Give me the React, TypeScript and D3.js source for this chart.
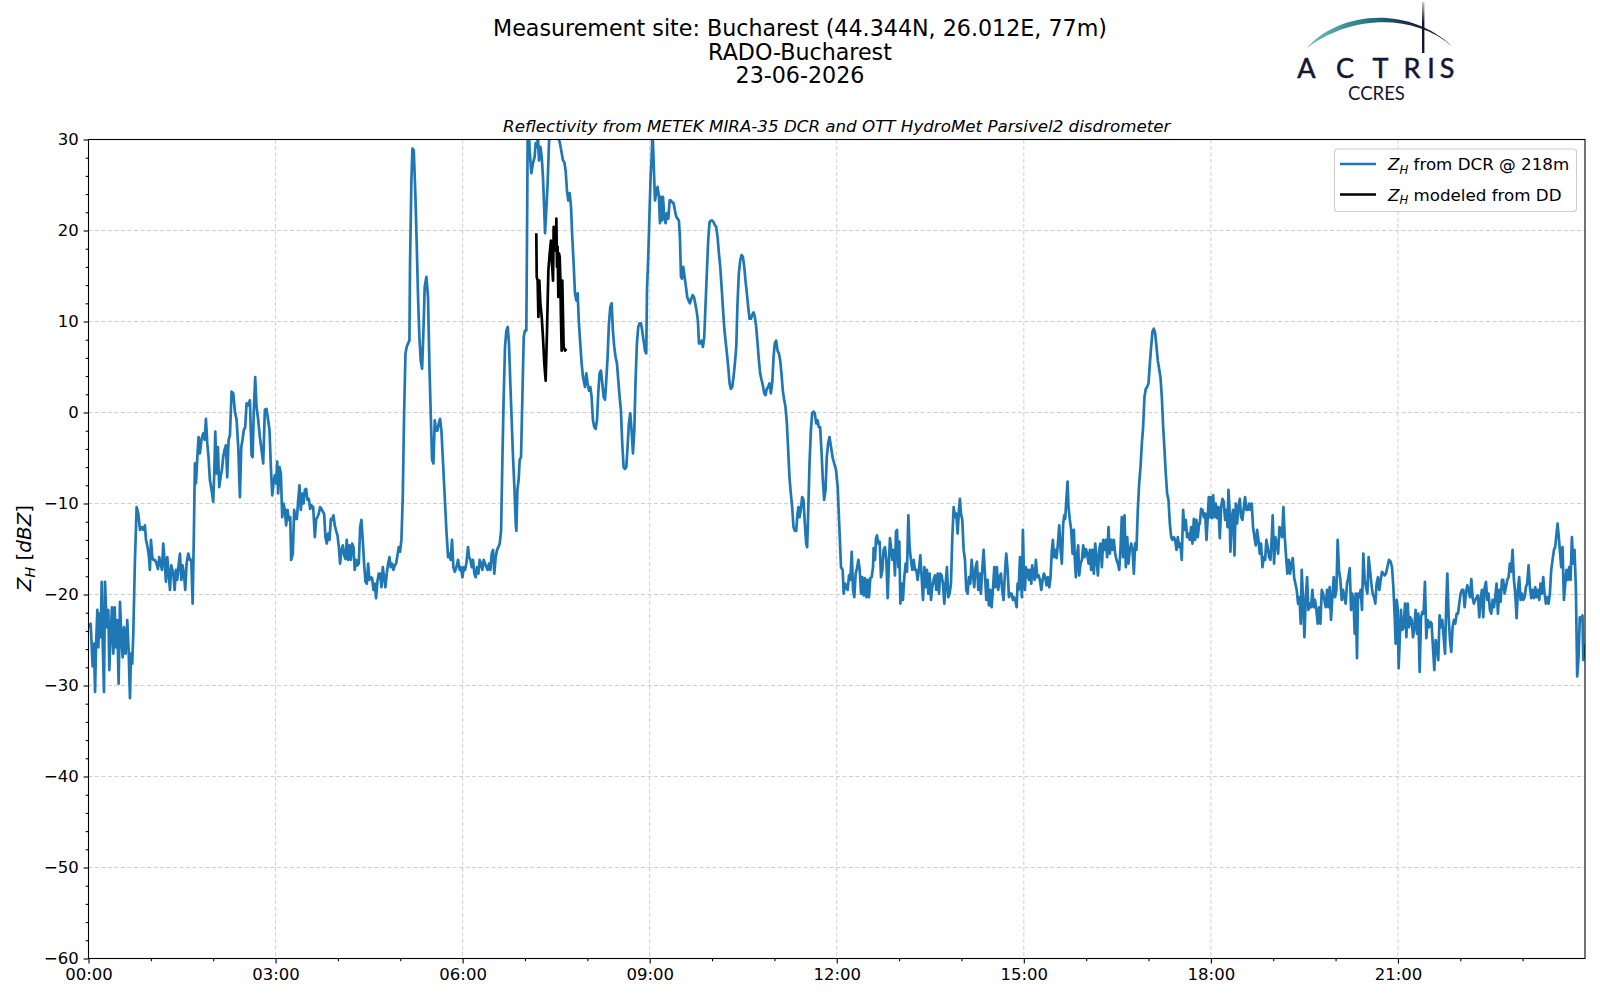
import { useEffect, useRef } from "react";
import * as d3 from "d3";

// time in minutes after 00:00, reflectivity in dBZ
const dcr00: [number, number][] = [
  [0,-23.6],[2.1,-23.2],[4.0,-27.9],[5.3,-25.4],[6.3,-30.7],[7.2,-25.8],[8.5,-21.7],[9.5,-25.8],[10.4,-22.1],[11.7,-24.7],
  [12.7,-18.6],[13.6,-25.0],[14.9,-30.7],[15.9,-18.6],[17.5,-23.6],[19.1,-21.7],[20.0,-28.3],[21.3,-24.3],[22.6,-21.4],[23.9,-26.5],
  [25.2,-21.4],[26.4,-25.8],[27.7,-22.8],[29.0,-29.8],[30.3,-20.8],[31.9,-25.4],[32.9,-26.9],[34.1,-23.6],[35.7,-26.5],[37.3,-22.8],
  [38.6,-26.1],[39.9,-31.4],[40.9,-26.5],[42.1,-27.6],[43.1,-24.3],[44.7,-16.2],[46.3,-10.4],[47.9,-11.1],[49.5,-12.9],[51.4,-12.6],
  [52.7,-12.9],[54.3,-12.4],[55.3,-14.0],[56.9,-14.8],[58.2,-15.9],[59.1,-17.3],[60.1,-14.0],[61.4,-15.9],[62.3,-16.2],[63.9,-16.2],
  [65.5,-16.6],[66.8,-17.2],[68.1,-15.9],[69.4,-16.6],[70.7,-17.3],[71.9,-14.4],[73.2,-16.2],[74.5,-18.6],[75.8,-15.9],[77.1,-17.7],
  [78.4,-19.5],[79.6,-16.8],[81.6,-17.7],[82.9,-19.5],[84.1,-17.3],[85.4,-18.4],[86.7,-16.8],[88.0,-15.5],[89.3,-18.4],[90.5,-16.8],
  [91.8,-17.7],[93.1,-19.5],[94.4,-16.6],[96.0,-15.5],[97.6,-16.2],[98.9,-16.2],[100.2,-21.0],[101.4,-13.3],[102.4,-5.6],[103.4,-7.8],
  [104.6,-5.2],[105.9,-2.7],[107.2,-4.5],[108.8,-2.9],[110.4,-2.3],[111.7,-3.0],[113.0,-0.7],[114.3,-3.4],[115.5,-4.9],[116.8,-7.4],
  [118.4,-8.5],[120.0,-9.8],[121.0,-6.7],[122.0,-2.1],[123.2,-6.7],[124.5,-3.8],[125.8,-8.2],[127.1,-7.1],[128.4,-6.3],[129.6,-4.9],
  [130.9,-4.1],[132.2,-3.6],[133.5,-7.1],[134.8,-3.0],[136.1,-2.5],[137.7,2.3],[139.3,2.1],[140.9,0.1],[142.5,-0.8],[144.1,-3.8],
  [145.7,-9.3],[147.0,-3.8],[148.2,-3.0],[149.5,-1.9],[150.8,-1.6],[152.1,1.0],[153.7,0.8],[155.3,1.35],[156.9,-4.7],[157.9,-4.9],
  [159.1,0.3],[160.4,3.9],[161.7,0.6],[163.3,-0.8],[164.9,-2.7],[166.5,-4.1],[168.1,-5.6],[169.7,0.3],
];

const dcr03: [number, number][] = [
  [171.3,0.4],[172.9,-0.85],[174.2,-1.95],[175.5,-6.0],[176.8,-9.1],[178.0,-7.8],[179.3,-6.9],[180.6,-7.8],[181.6,-5.4],[182.5,-8.9],
  [183.8,-6.0],[185.1,-6.7],[186.4,-11.5],[187.6,-10.0],[188.9,-10.7],[190.2,-12.4],[191.5,-10.7],[192.8,-11.8],[194.1,-11.5],[195.0,-16.2],
  [196.6,-15.5],[197.9,-10.7],[199.2,-11.7],[200.5,-11.7],[201.8,-9.6],[203.0,-8.0],[204.3,-10.7],[205.6,-8.9],[206.9,-10.0],[208.2,-8.5],
  [209.4,-8.4],[210.7,-9.6],[212.0,-9.5],[213.3,-10.6],[214.6,-10.2],[216.2,-10.4],[217.8,-13.7],[219.1,-11.7],[220.3,-11.5],[221.6,-11.1],
  [222.9,-10.4],[224.2,-10.6],[225.5,-10.9],[226.7,-11.1],[228.0,-13.7],[229.3,-14.4],[230.6,-13.3],[231.9,-14.0],[233.2,-11.7],[234.4,-11.8],
  [235.7,-11.3],[237.0,-12.4],[238.3,-13.0],[239.6,-13.5],[240.9,-14.8],[242.1,-16.6],[243.4,-15.1],[244.7,-14.6],[246.0,-15.7],[247.3,-16.1],
  [248.5,-14.0],[249.8,-16.2],[251.1,-14.6],[252.4,-16.2],[253.7,-14.4],[255.0,-14.8],[256.2,-17.3],[257.5,-16.2],[258.8,-16.8],[260.1,-16.6],
  [261.4,-12.6],[262.6,-11.8],[263.9,-14.0],[265.2,-16.6],[266.5,-18.6],[267.8,-18.8],[269.1,-16.6],[270.3,-18.4],[271.6,-18.1],[272.9,-18.2],
  [274.2,-19.5],[275.5,-18.8],[276.7,-20.4],[278.0,-18.6],[279.3,-17.7],[280.6,-17.7],[281.9,-19.2],[283.2,-17.0],[284.4,-18.1],[285.7,-19.2],
  [287.0,-17.7],[288.3,-16.6],[289.6,-15.9],[290.8,-17.0],[292.1,-16.6],[293.4,-17.3],[294.7,-16.8],[296.0,-16.6],[297.3,-15.7],[298.5,-14.8],
  [299.8,-15.3],[301.1,-14.0],[302.4,-9.3],[303.7,-0.1],[305.0,6.5],[306.2,7.2],[307.5,7.6],[308.8,7.9],[309.4,16.4],[310.7,25.5],
  [311.7,29.0],[313.0,28.8],[314.6,23.7],[315.9,18.2],[317.1,12.7],[318.4,8.3],[319.7,5.7],[321.0,4.8],[322.3,9.0],[323.5,13.8],
  [325.1,14.9],[326.7,12.7],[328.0,5.4],[329.3,-0.1],[330.6,-5.2],[331.9,-5.6],[333.2,-0.85],[334.4,-2.0],[335.7,-2.0],[337.0,-1.2],
  [338.3,-0.7],[339.6,-2.0],[341.2,-5.6],[342.8,-9.3],[344.4,-13.0],[346.0,-15.9],[347.3,-15.5],[348.5,-16.2],[349.8,-14.0],[351.1,-17.0],
  [352.4,-17.5],[354.0,-17.0],[355.6,-16.2],[357.2,-17.3],
];

const dcr06: [number, number][] = [
  [358.5,-17.0],[359.8,-18.1],[361.1,-17.0],[362.3,-17.3],[363.6,-16.6],[365.2,-14.8],[366.2,-15.9],[367.5,-16.2],[368.8,-17.0],[370.0,-16.2],
  [371.3,-17.7],[372.6,-18.1],[373.9,-17.0],[375.2,-17.7],[376.4,-16.2],[377.7,-16.6],[379.0,-17.3],[380.3,-16.2],[381.6,-16.6],[382.9,-17.0],
  [384.1,-17.3],[385.4,-16.6],[386.7,-17.3],[388.0,-15.5],[389.3,-15.1],[390.5,-17.7],[391.8,-15.9],[393.1,-15.1],[394.4,-14.8],[395.7,-14.4],
  [397.0,-13.0],[398.2,-5.6],[399.5,1.7],[400.8,7.2],[402.1,9.0],[403.4,9.4],[404.6,7.6],[405.9,3.2],[407.2,-0.85],[408.5,-4.9],
  [409.8,-8.2],[411.1,-12.2],[411.7,-13.0],[412.7,-8.5],[413.9,-7.4],[414.9,-5.2],[416.2,-4.9],[417.5,1.7],[418.8,8.3],[420.0,9.0],
  [421.3,9.0],[422.0,20.0],[422.6,30.7],[423.6,31.5],[424.5,28.8],[426.1,26.3],[427.7,27.4],[429.3,28.1],[430.3,29.6],[431.6,29.2],
  [432.5,30.3],[433.5,27.7],[434.8,29.2],[436.1,28.1],[437.3,25.9],[438.3,23.0],[439.3,19.7],[440.5,22.2],[441.8,25.2],[443.1,29.6],
  [444.4,31.5],[447.0,32.0],[450.2,31.5],[452.1,30.3],[454.0,29.4],[455.3,28.5],[456.6,27.7],[457.9,27.5],[459.1,26.6],[460.4,24.4],
  [461.7,23.3],[463.0,24.1],[464.3,22.6],[465.5,19.3],[466.8,16.4],[468.1,13.1],[469.4,12.3],[470.7,13.1],[471.9,9.8],[473.2,7.6],
  [474.5,5.4],[475.8,3.9],[477.1,3.2],[477.7,2.8],[479.0,4.3],[480.3,3.2],[481.6,2.4],[482.9,2.8],[484.1,1.7],[485.4,-0.85],
  [486.7,-1.6],[488.0,-1.8],[489.3,-0.85],[490.5,2.1],[491.8,4.3],[493.1,4.6],[494.4,3.2],[495.7,1.7],[497.0,1.4],[498.2,3.5],
  [499.5,6.1],[500.8,9.8],[502.1,11.6],[503.4,12.0],[504.6,9.0],[505.9,7.2],[507.2,6.1],[508.5,5.4],[509.8,3.5],[511.1,1.7],
  [512.3,0.25],[513.6,-3.4],[514.9,-6.0],[516.2,-6.2],[517.5,-6.0],[518.7,-3.8],[520.0,-1.2],[521.3,-0.1],[522.6,-2.0],[523.9,-4.5],
  [525.2,-2.0],[526.4,3.5],[527.7,7.6],[529.0,9.4],[530.3,9.8],[531.6,9.8],[532.8,9.0],[534.1,7.9],[535.1,7.2],
];

const dcr09: [number, number][] = [
  [535.4,6.8],[536.7,6.5],[537.4,13.4],[538.6,17.1],[539.9,22.2],[540.9,25.9],[541.9,28.1],[542.8,30.7],[543.8,27.7],[544.4,25.5],
  [545.1,23.3],[546.3,24.1],[547.6,24.8],[548.9,23.7],[549.9,20.8],[550.8,23.7],[551.8,21.1],[552.8,23.7],[554.0,21.5],[555.3,20.8],
  [556.6,21.9],[557.9,21.3],[559.2,23.3],[560.4,23.3],[561.7,23.1],[563.0,23.0],[564.3,22.2],[565.6,21.5],[566.9,21.3],[568.1,21.1],
  [569.1,19.3],[570.1,14.9],[571.0,14.7],[572.3,16.0],[573.6,14.9],[574.9,13.8],[576.1,12.7],[577.4,12.3],[578.7,12.0],[580.0,12.5],
  [581.3,12.9],[582.6,12.7],[583.8,12.0],[585.1,11.2],[586.4,10.1],[587.4,7.6],[588.6,7.6],[589.9,7.9],[591.2,7.2],[592.5,8.3],
  [593.8,12.0],[595.1,15.6],[596.3,18.9],[597.6,20.9],[598.9,21.1],[600.2,21.1],[601.5,20.9],[602.7,20.6],[604.0,20.4],[605.3,19.3],
  [606.6,17.5],[607.9,16.0],[609.2,13.8],[610.4,11.6],[611.7,9.4],[613.0,7.9],[614.3,6.5],[615.6,5.0],[616.9,3.2],[618.1,2.6],
  [619.4,2.8],[620.7,3.9],[622.0,5.4],[623.3,7.2],[624.5,12.0],[625.8,15.3],[627.1,16.7],[628.4,17.3],[629.7,17.1],[631.0,16.0],
  [632.2,14.5],[633.5,13.1],[634.8,11.6],[636.1,10.3],[637.4,10.3],[638.6,10.7],[639.9,11.0],[641.2,10.5],[642.5,9.4],[643.8,7.6],
  [645.1,5.7],[646.3,4.3],[647.6,3.6],[648.9,3.0],[650.2,2.1],[651.5,1.9],[652.7,2.6],[654.0,2.8],[655.3,3.2],[656.6,2.1],
  [657.9,3.2],[659.2,6.1],[660.4,7.6],[661.7,7.9],[663.0,6.8],[664.3,6.5],[665.6,5.7],[666.8,4.3],[668.1,2.4],[669.4,1.4],
  [670.7,0.6],[672.0,-1.2],[673.3,-4.2],[674.5,-7.1],[675.8,-8.9],[677.1,-10.4],[678.4,-12.6],[679.7,-13.0],[681.0,-13.0],[682.2,-11.1],
  [683.2,-10.4],[684.2,-11.5],[685.4,-10.7],[686.7,-9.3],[688.0,-9.6],[689.3,-12.2],[690.6,-14.4],[691.5,-14.8],[692.5,-11.1],[693.8,-5.6],
  [695.1,-2.0],[696.3,-0.1],[697.6,0.1],[698.9,-0.1],[700.2,-1.2],[701.5,-0.85],[702.7,-1.6],[704.0,-1.6],[705.3,-4.2],[706.6,-7.4],
  [707.9,-9.6],[709.2,-8.5],[710.4,-4.9],[711.7,-3.4],[713.0,-2.7],
];

const dcr12: [number, number][] = [
  [714.5,-3.8],[716.1,-5.0],[719.3,-6.3],[720.9,-8.2],[722.5,-12.6],[724.1,-17.0],[725.7,-17.3],[726.7,-19.9],[728.0,-18.8],[729.3,-19.2],
  [730.5,-19.5],[731.8,-17.9],[733.1,-18.4],[734.4,-15.3],[735.7,-19.5],[736.9,-20.3],[738.2,-17.7],[739.5,-17.1],[740.8,-16.2],[742.1,-17.3],
  [743.4,-19.9],[744.6,-18.1],[745.9,-20.1],[747.2,-18.2],[748.5,-20.3],[749.8,-18.4],[751.0,-20.3],[752.3,-18.2],[753.6,-18.1],[754.9,-17.0],
  [755.5,-14.9],[756.8,-16.2],[757.8,-13.8],[758.7,-13.5],[760.0,-14.4],[761.3,-14.2],[762.6,-18.1],[763.9,-17.3],[765.1,-15.1],[766.4,-14.8],
  [767.7,-16.2],[769.0,-20.4],[770.3,-16.2],[771.2,-13.8],[772.2,-14.8],[773.5,-16.2],[774.8,-15.1],[776.0,-17.9],[777.0,-13.1],[778.0,-12.9],
  [779.2,-17.0],[780.2,-14.2],[781.2,-21.0],[782.5,-18.8],[783.7,-20.6],[785.0,-18.1],[786.3,-16.6],[787.6,-17.5],[788.9,-11.3],[790.1,-14.8],
  [791.4,-16.2],[792.7,-17.3],[794.0,-16.2],[795.3,-17.3],[796.6,-17.3],[797.8,-18.4],[799.1,-17.3],[800.4,-15.7],[801.7,-18.1],[803.0,-20.6],
  [804.3,-17.0],[805.5,-19.2],[806.8,-17.3],[808.1,-19.9],[809.4,-17.7],[810.7,-20.6],[811.9,-19.2],[813.2,-18.4],[814.5,-17.9],[815.8,-19.5],
  [817.1,-17.7],[818.4,-19.9],[819.6,-17.7],[820.9,-17.9],[822.2,-18.8],[823.5,-21.0],[824.8,-18.8],[826.0,-17.0],[827.3,-20.3],[828.6,-19.9],
  [829.9,-18.8],[831.2,-13.7],[832.5,-10.4],[833.7,-11.5],[835.0,-11.1],[836.3,-13.3],[837.6,-10.7],[838.5,-9.5],[839.5,-11.1],[840.8,-11.8],
  [842.1,-15.1],[843.4,-16.2],[844.6,-19.5],[845.9,-19.9],[847.2,-18.1],[848.5,-18.8],[849.8,-16.2],[851.0,-17.7],[852.3,-19.2],[853.6,-17.0],
  [854.9,-16.4],[856.2,-19.5],[857.5,-17.7],[858.7,-19.9],[860.0,-17.3],[861.3,-15.1],[862.6,-17.7],[863.9,-20.6],[865.1,-18.4],[866.4,-21.2],
  [867.7,-19.5],[869.0,-21.4],[870.3,-19.5],[871.6,-17.0],[872.8,-19.2],[874.1,-17.0],[875.4,-19.5],[876.7,-18.1],[878.0,-17.7],[879.2,-19.5],
  [880.5,-20.6],[881.8,-17.7],[883.1,-15.5],[884.4,-17.3],[885.7,-20.3],[886.9,-19.9],[888.2,-19.9],[889.5,-20.6],
];

const dcr15: [number, number][] = [
  [890.5,-20.3],[891.8,-20.6],[893.1,-21.4],[894.0,-18.8],[895.0,-19.5],[896.3,-15.9],[897.2,-18.4],[898.2,-20.3],[899.1,-12.9],[900.1,-17.7],
  [901.1,-19.5],[902.0,-17.0],[903.0,-18.1],[904.0,-17.3],[904.9,-18.4],[905.9,-17.3],[907.2,-18.8],[908.1,-16.8],[909.1,-17.7],[910.4,-18.4],
  [911.6,-16.2],[912.9,-18.1],[914.2,-17.9],[915.5,-18.4],[916.8,-19.5],[918.1,-18.4],[919.3,-17.7],[920.6,-18.1],[921.9,-19.0],[923.2,-18.1],
  [924.5,-19.2],[925.7,-18.1],[927.0,-15.1],[928.0,-14.0],[928.9,-15.9],[930.2,-15.1],[931.5,-16.0],[932.8,-14.4],[934.1,-12.4],[935.4,-15.1],
  [936.6,-16.6],[937.9,-12.2],[938.9,-11.3],[939.8,-11.7],[941.1,-9.3],[942.1,-7.6],[943.0,-10.4],[944.3,-11.8],[945.6,-12.9],[946.9,-15.5],
  [948.2,-12.9],[949.1,-16.2],[950.1,-18.1],[951.4,-15.5],[952.3,-14.6],[953.3,-17.9],[954.6,-16.6],[955.9,-16.2],[957.2,-14.6],[958.4,-15.9],
  [959.7,-15.0],[961.0,-15.5],[962.3,-16.6],[963.6,-15.1],[964.8,-17.3],[966.1,-15.1],[967.4,-17.7],[968.7,-14.4],[970.0,-16.2],[971.3,-17.9],
  [972.5,-15.1],[973.8,-14.4],[975.1,-17.0],[976.4,-14.0],[977.7,-15.1],[978.9,-14.0],[980.2,-15.9],[981.5,-12.6],[982.8,-15.5],[984.1,-14.0],
  [985.4,-15.1],[986.6,-14.0],[987.9,-15.5],[989.2,-16.2],[990.5,-16.6],[991.8,-17.3],[993.0,-15.1],[994.3,-11.5],[995.6,-15.9],[996.9,-11.3],
  [998.2,-17.0],[999.5,-13.7],[1000.7,-16.6],[1002.0,-15.1],[1003.3,-14.4],[1004.6,-15.1],[1005.9,-17.7],[1007.1,-14.4],[1008.4,-15.1],[1009.7,-10.7],
  [1011.0,-7.8],[1012.3,-6.0],[1013.6,-3.4],[1014.8,-1.6],[1016.1,1.7],[1017.4,2.6],[1018.7,2.8],[1020.0,3.2],[1021.3,5.4],[1022.5,7.2],
  [1023.8,8.9],[1025.1,9.2],[1026.4,8.7],[1027.7,7.2],[1028.9,5.7],[1030.2,4.8],[1031.5,3.9],[1032.8,1.7],[1034.1,-1.6],[1035.4,-4.1],
  [1036.6,-6.7],[1037.9,-8.9],[1039.2,-9.6],[1040.5,-12.2],[1041.8,-13.7],[1043.0,-14.0],[1044.3,-13.7],[1045.6,-14.0],[1046.9,-15.1],[1048.2,-13.7],
  [1049.5,-14.8],[1050.7,-14.4],[1052.0,-16.2],[1053.3,-10.7],[1054.6,-12.9],[1055.9,-11.8],[1057.1,-13.7],[1058.4,-13.3],[1059.7,-14.0],[1061.0,-12.6],
  [1062.3,-14.4],[1063.6,-11.7],[1064.8,-14.0],[1066.1,-11.8],[1067.4,-13.7],[1068.7,-12.2],
];

const dcr18: [number, number][] = [
  [1069.3,-12.2],[1070.6,-10.6],[1071.9,-10.7],[1073.2,-11.5],[1074.5,-11.1],[1075.8,-14.0],[1077.0,-11.5],[1078.0,-9.3],[1079.0,-11.5],[1079.9,-9.3],
  [1081.2,-11.6],[1082.2,-9.1],[1083.5,-11.5],[1084.7,-10.0],[1086.0,-11.6],[1087.3,-10.4],[1088.6,-13.8],[1089.9,-10.4],[1091.1,-9.5],[1092.4,-9.8],
  [1093.7,-11.8],[1095.0,-10.7],[1096.0,-12.6],[1096.9,-8.5],[1097.9,-10.4],[1098.8,-15.3],[1100.1,-11.5],[1101.4,-10.7],[1102.7,-15.7],[1104.0,-10.0],
  [1105.2,-12.2],[1106.5,-10.4],[1107.8,-9.5],[1109.1,-11.5],[1110.4,-11.8],[1111.7,-10.4],[1112.9,-9.3],[1114.2,-10.7],[1115.5,-10.7],[1116.8,-10.0],
  [1118.1,-10.7],[1119.3,-10.0],[1120.6,-12.6],[1121.9,-13.7],[1123.2,-14.6],[1124.5,-12.9],[1125.8,-14.0],[1127.0,-15.5],[1128.3,-14.4],[1129.6,-17.0],
  [1130.9,-15.9],[1132.2,-16.2],[1133.4,-14.0],[1134.7,-14.8],[1136.0,-15.9],[1137.3,-16.2],[1138.6,-13.7],[1139.5,-11.3],[1140.8,-16.6],[1142.1,-13.7],
  [1143.4,-14.4],[1144.7,-15.5],[1146.0,-12.6],[1147.2,-12.9],[1148.5,-13.7],[1149.8,-10.4],[1151.1,-13.7],[1152.4,-15.9],[1153.6,-17.7],[1154.9,-16.2],
  [1156.2,-17.7],[1157.5,-16.6],[1158.8,-16.0],[1160.1,-18.1],[1161.3,-18.8],[1162.6,-19.5],[1163.9,-21.0],[1165.2,-20.3],[1166.5,-23.2],[1167.4,-17.3],
  [1168.7,-20.6],[1170.0,-24.7],[1171.3,-20.3],[1172.6,-18.1],[1173.8,-21.7],[1175.1,-21.0],[1176.4,-21.4],[1177.7,-19.5],[1179.0,-21.4],[1180.2,-20.6],
  [1181.5,-21.7],[1182.8,-23.2],[1184.1,-21.4],[1185.4,-23.2],[1186.7,-19.5],[1187.9,-19.9],[1189.2,-20.6],[1190.5,-21.4],[1191.8,-19.5],[1193.1,-21.4],
  [1194.3,-19.2],[1195.6,-22.8],[1196.9,-20.3],[1198.2,-18.1],[1199.5,-20.3],[1200.8,-19.5],[1202.0,-14.0],[1203.3,-17.3],[1204.6,-18.4],[1205.9,-20.6],
  [1207.2,-19.5],[1208.4,-20.3],[1209.7,-21.0],[1211.0,-18.8],[1212.3,-18.1],[1213.6,-17.1],[1214.9,-21.7],[1216.1,-19.9],[1217.4,-21.0],[1218.4,-24.3],
  [1219.3,-19.9],[1220.6,-27.0],[1221.6,-19.9],[1222.9,-20.3],[1224.1,-19.5],[1225.4,-21.7],[1226.7,-15.5],[1228.0,-18.4],[1229.3,-19.2],[1230.6,-19.9],
  [1231.8,-15.9],[1233.1,-17.3],[1234.4,-18.8],[1235.7,-19.9],[1237.0,-20.3],[1238.2,-21.0],[1239.5,-18.8],[1240.8,-18.1],[1242.1,-19.5],[1243.4,-18.4],
  [1244.7,-17.5],[1245.9,-17.7],[1247.2,-17.9],[1248.5,-17.7],[1249.8,-17.0],[1251.4,-16.2],
];

const dcr21: [number, number][] = [
  [1253.0,-16.4],[1254.3,-17.0],[1255.6,-19.2],[1256.9,-22.5],[1257.8,-25.4],[1258.8,-20.6],[1259.7,-21.4],[1260.7,-28.1],[1261.7,-25.0],[1262.9,-21.7],
  [1264.2,-23.9],[1265.5,-23.6],[1266.8,-21.0],[1268.1,-24.7],[1269.4,-21.0],[1270.6,-23.6],[1271.9,-22.5],[1273.2,-22.8],[1274.5,-24.7],[1275.8,-23.6],
  [1277.0,-21.7],[1278.3,-24.3],[1279.6,-22.1],[1280.9,-28.5],[1282.2,-22.5],[1283.5,-21.9],[1284.7,-22.1],[1286.0,-18.6],[1287.3,-24.8],[1288.6,-22.8],
  [1289.9,-23.6],[1291.1,-23.0],[1292.4,-23.2],[1293.7,-25.8],[1295.0,-28.3],[1296.3,-25.0],[1297.6,-25.8],[1298.8,-27.2],[1300.1,-22.3],[1301.4,-23.6],
  [1302.7,-22.8],[1304.0,-24.7],[1305.3,-26.5],[1306.5,-21.0],[1307.5,-17.7],[1308.8,-22.5],[1310.1,-25.0],[1311.3,-26.3],[1312.6,-23.6],[1313.9,-22.8],
  [1315.2,-23.2],[1316.5,-22.1],[1317.8,-22.1],[1319.0,-21.0],[1320.3,-19.9],[1321.6,-19.5],[1322.9,-19.5],[1324.2,-21.4],[1325.4,-19.9],[1326.7,-19.0],
  [1328.0,-19.5],[1329.3,-20.3],[1330.6,-18.3],[1331.9,-20.4],[1333.1,-21.0],[1334.4,-20.6],[1335.7,-20.3],[1337.0,-20.1],[1338.3,-22.5],[1339.5,-20.6],
  [1340.8,-19.5],[1342.1,-22.5],[1343.4,-19.3],[1344.7,-18.6],[1346.0,-20.6],[1347.2,-19.9],[1348.5,-21.7],[1349.8,-22.1],[1351.1,-20.6],[1352.4,-21.4],
  [1353.6,-20.3],[1354.9,-18.8],[1356.2,-22.1],[1357.5,-19.5],[1358.8,-20.8],[1360.1,-18.4],[1361.3,-18.4],[1362.6,-19.9],[1363.9,-19.2],[1365.2,-18.4],
  [1366.5,-18.1],[1367.7,-16.6],[1369.0,-17.5],[1370.3,-15.1],[1371.6,-18.4],[1372.9,-19.9],[1374.2,-22.6],[1375.4,-19.5],[1376.7,-18.1],[1378.0,-20.6],
  [1379.3,-19.9],[1380.6,-20.6],[1381.9,-20.3],[1383.1,-19.2],[1384.4,-18.8],[1385.7,-16.8],[1387.0,-19.2],[1388.3,-20.4],[1389.6,-19.5],[1390.8,-20.4],
  [1392.1,-19.2],[1393.4,-20.3],[1394.7,-19.5],[1396.0,-20.6],[1397.2,-18.8],[1398.5,-19.9],[1399.8,-18.1],[1401.1,-19.9],[1402.4,-21.0],[1403.6,-20.3],
  [1404.9,-21.0],[1406.2,-19.9],[1407.5,-17.3],[1408.8,-16.2],[1410.1,-15.1],[1411.3,-14.8],[1412.6,-13.3],[1413.6,-12.2],[1414.5,-13.3],[1415.8,-15.1],
  [1417.1,-17.0],[1418.4,-14.8],[1419.7,-20.6],[1421.0,-18.8],[1422.2,-17.3],[1423.5,-18.4],[1424.8,-17.0],[1426.1,-18.4],[1427.4,-13.7],[1428.6,-16.6],
  [1429.9,-15.1],[1431.2,-19.2],[1432.5,-29.0],[1433.8,-26.9],[1435.0,-22.5],[1436.3,-22.8],[1437.6,-22.3],[1438.3,-27.2],[1439.5,-25.5],
];

// disdrometer-modelled reflectivity (only during the rain event)
const ddModel: [number, number][] = [
  [430.9,19.7],[431.3,14.9],[432.2,14.5],[432.9,10.5],[433.8,14.5],[434.8,12.0],[436.1,10.5],[437.3,8.3],[438.6,5.4],[439.9,3.5],
  [441.2,9.0],[442.5,15.6],[443.8,17.5],[445.0,18.9],[446.0,16.4],[447.0,14.5],[447.6,20.4],[448.9,18.9],[449.5,17.8],[450.2,21.3],
  [450.8,16.0],[451.4,18.2],[452.1,12.7],[452.7,17.5],[453.4,17.1],[454.0,14.9],[454.6,10.5],[455.3,6.8],[455.9,14.5],[456.6,10.5],
  [457.2,7.2],[458.5,6.8],[459.8,7.0],
];

const xTickHours = [0, 3, 6, 9, 12, 15, 18, 21];
const xTickLabels = ["00:00", "03:00", "06:00", "09:00", "12:00", "15:00", "18:00", "21:00"];
const yTicks = [-60, -50, -40, -30, -20, -10, 0, 10, 20, 30];

const titleLines = [
  "Measurement site: Bucharest (44.344N, 26.012E, 77m)",
  "RADO-Bucharest",
  "23-06-2026",
];
const subTitle = "Reflectivity from METEK MIRA-35 DCR and OTT HydroMet Parsivel2 disdrometer";

const FONT = "'DejaVu Sans', sans-serif";
const BLUE = "#1f77b4";

export default function App() {
  const ref = useRef<SVGSVGElement>(null);

  useEffect(() => {
    if (!ref.current) return;
    const svg = d3.select(ref.current);
    svg.selectAll("*").remove();

    const left = 88.5, right = 1585, top = 139.5, bottom = 958.5;

    const x = d3.scaleLinear().domain([0, 1440]).range([left, right]);
    const y = d3.scaleLinear().domain([-60, 30]).range([bottom, top]);

    svg.append("rect").attr("width", 1600).attr("height", 1000).attr("fill", "#fff");

    const defs = svg.append("defs");
    defs.append("clipPath").attr("id", "plotClip")
      .append("rect").attr("x", left).attr("y", top).attr("width", right - left).attr("height", bottom - top);

    // 1) GRID
    const grid = svg.append("g").attr("stroke", "#cfcfcf").attr("stroke-width", 1).attr("stroke-dasharray", "4,2.5");
    grid.selectAll("line.gx").data(xTickHours).enter().append("line")
      .attr("x1", d => x(d * 60)).attr("x2", d => x(d * 60)).attr("y1", top).attr("y2", bottom);
    grid.selectAll("line.gy").data(yTicks).enter().append("line")
      .attr("x1", left).attr("x2", right).attr("y1", d => y(d)).attr("y2", d => y(d));

    // 2) LINES
    const line = d3.line<[number, number]>().x(d => x(d[0])).y(d => y(d[1]));
    const dcr = [...dcr00, ...dcr03, ...dcr06, ...dcr09, ...dcr12, ...dcr15, ...dcr18, ...dcr21];
    const plot = svg.append("g").attr("clip-path", "url(#plotClip)");
    plot.append("path").datum(dcr).attr("d", line).attr("fill", "none")
      .attr("stroke", BLUE).attr("stroke-width", 2.7).attr("stroke-linejoin", "round");
    plot.append("path").datum(ddModel).attr("d", line).attr("fill", "none")
      .attr("stroke", "#000").attr("stroke-width", 2.7).attr("stroke-linejoin", "round");

    // 3) AXES
    const styleAxis = (g: d3.Selection<SVGGElement, unknown, null, undefined>) => {
      g.select(".domain").remove();
      g.selectAll("line").attr("stroke", "#000").attr("stroke-width", 1.1);
      g.selectAll("text").attr("font-family", FONT).attr("font-size", 16.5).attr("fill", "#000");
    };

    svg.append("g").attr("transform", `translate(0,${bottom})`)
      .call(d3.axisBottom(x).tickValues(xTickHours.map(h => h * 60))
        .tickFormat((_, i) => xTickLabels[i]).tickSizeInner(4.9).tickSizeOuter(0).tickPadding(4.4))
      .call(styleAxis);
    svg.append("g").attr("transform", `translate(0,${bottom})`)
      .call(d3.axisBottom(x).tickValues(d3.range(1, 24).filter(h => h % 3 !== 0).map(h => h * 60))
        .tickFormat(() => "").tickSizeInner(2.8).tickSizeOuter(0))
      .call(styleAxis);

    svg.append("g").attr("transform", `translate(${left},0)`)
      .call(d3.axisLeft(y).tickValues(yTicks).tickFormat(d => d3.format("d")(d as number).replace("-", "\u2212"))
        .tickSizeInner(4.9).tickSizeOuter(0).tickPadding(4.9))
      .call(styleAxis);
    svg.append("g").attr("transform", `translate(${left},0)`)
      .call(d3.axisLeft(y).tickValues(d3.range(-60, 31, 2).filter(v => v % 10 !== 0))
        .tickFormat(() => "").tickSizeInner(2.8).tickSizeOuter(0))
      .call(styleAxis);

    svg.append("rect").attr("x", left).attr("y", top).attr("width", right - left).attr("height", bottom - top)
      .attr("fill", "none").attr("stroke", "#000").attr("stroke-width", 1.1);

    // y label
    const yl = svg.append("text").attr("transform", `translate(31,${(top + bottom) / 2 - 1}) rotate(-90)`)
      .attr("text-anchor", "middle").attr("font-family", FONT).attr("font-size", 20).attr("fill", "#000");
    yl.append("tspan").attr("font-style", "italic").text("Z");
    yl.append("tspan").attr("font-style", "italic").attr("font-size", 14).attr("dy", 4).text("H");
    yl.append("tspan").attr("dy", -4).text(" [");
    yl.append("tspan").attr("font-style", "italic").text("dBZ");
    yl.append("tspan").text("]");

    // 4) TITLES
    const tBase = [36, 59.5, 82.5];
    svg.selectAll("text.title").data(titleLines).enter().append("text")
      .attr("x", 800).attr("y", (_, i) => tBase[i]).attr("text-anchor", "middle")
      .attr("font-family", FONT).attr("font-size", 22.2).attr("fill", "#000").text(d => d);
    svg.append("text").attr("x", (left + right) / 2).attr("y", 131.5).attr("text-anchor", "middle")
      .attr("font-family", FONT).attr("font-size", 16.7).attr("font-style", "italic").attr("fill", "#000").text(subTitle);

    // 5) LEGEND
    const lg = svg.append("g");
    lg.append("rect").attr("x", 1334.5).attr("y", 149).attr("width", 242).attr("height", 62.5).attr("rx", 3)
      .attr("fill", "#fff").attr("fill-opacity", 0.8).attr("stroke", "#cccccc").attr("stroke-width", 1.1);
    const items = [
      { color: BLUE, label: " from DCR @ 218m", cy: 164 },
      { color: "#000", label: " modeled from DD", cy: 194.5 },
    ];
    items.forEach(it => {
      lg.append("line").attr("x1", 1340).attr("x2", 1376).attr("y1", it.cy).attr("y2", it.cy)
        .attr("stroke", it.color).attr("stroke-width", 2.7);
      const t = lg.append("text").attr("x", 1388).attr("y", it.cy + 6).attr("font-family", FONT)
        .attr("font-size", 16.7).attr("fill", "#000");
      t.append("tspan").attr("font-style", "italic").text("Z");
      t.append("tspan").attr("font-style", "italic").attr("font-size", 11.7).attr("dy", 3.5).text("H");
      t.append("tspan").attr("dy", -3.5).text(it.label);
    });

    // 6) LOGO
    const grad = defs.append("linearGradient").attr("id", "arcGrad").attr("x1", "0").attr("x2", "1").attr("y1", "0").attr("y2", "0");
    grad.append("stop").attr("offset", "0").attr("stop-color", "#6cc3bd");
    grad.append("stop").attr("offset", "0.45").attr("stop-color", "#23717f");
    grad.append("stop").attr("offset", "0.75").attr("stop-color", "#18203f");
    grad.append("stop").attr("offset", "1").attr("stop-color", "#151533");
    const vgrad = defs.append("linearGradient").attr("id", "vGrad").attr("x1", "0").attr("x2", "0").attr("y1", "0").attr("y2", "1");
    vgrad.append("stop").attr("offset", "0").attr("stop-color", "#151533").attr("stop-opacity", 0.25);
    vgrad.append("stop").attr("offset", "0.4").attr("stop-color", "#151533").attr("stop-opacity", 1);
    vgrad.append("stop").attr("offset", "1").attr("stop-color", "#151533").attr("stop-opacity", 1);

    const logo = svg.append("g");
    logo.append("path")
      .attr("d", "M1306,49 C1335,14 1405,2 1453,47 C1410,10 1345,18 1306,49 Z")
      .attr("fill", "url(#arcGrad)");
    logo.append("rect").attr("x", 1422).attr("y", 2).attr("width", 2.4).attr("height", 51).attr("fill", "url(#vGrad)");
    const letters = ["A", "C", "T", "R", "I", "S"];
    const letterX = [1306.5, 1345, 1380.5, 1412, 1431, 1447];
    logo.selectAll("text.l").data(letters).enter().append("text")
      .attr("x", (_, i) => letterX[i]).attr("y", 78).attr("text-anchor", "middle")
      .attr("font-family", "Lato, 'DejaVu Sans', sans-serif").attr("font-size", 27).attr("fill", "#151533")
      .attr("stroke", "#151533").attr("stroke-width", 0.5).text(d => d);
    logo.append("text").attr("x", 1376.5).attr("y", 99.5).attr("text-anchor", "middle")
      .attr("font-family", "Lato, 'DejaVu Sans', sans-serif").attr("font-size", 18.5).attr("fill", "#151533").text("CCRES");
  }, []);

  return (
    <svg ref={ref} width={1600} height={1000}
      style={{ position: "absolute", left: 0, top: 0, display: "block" }} />
  );
}
